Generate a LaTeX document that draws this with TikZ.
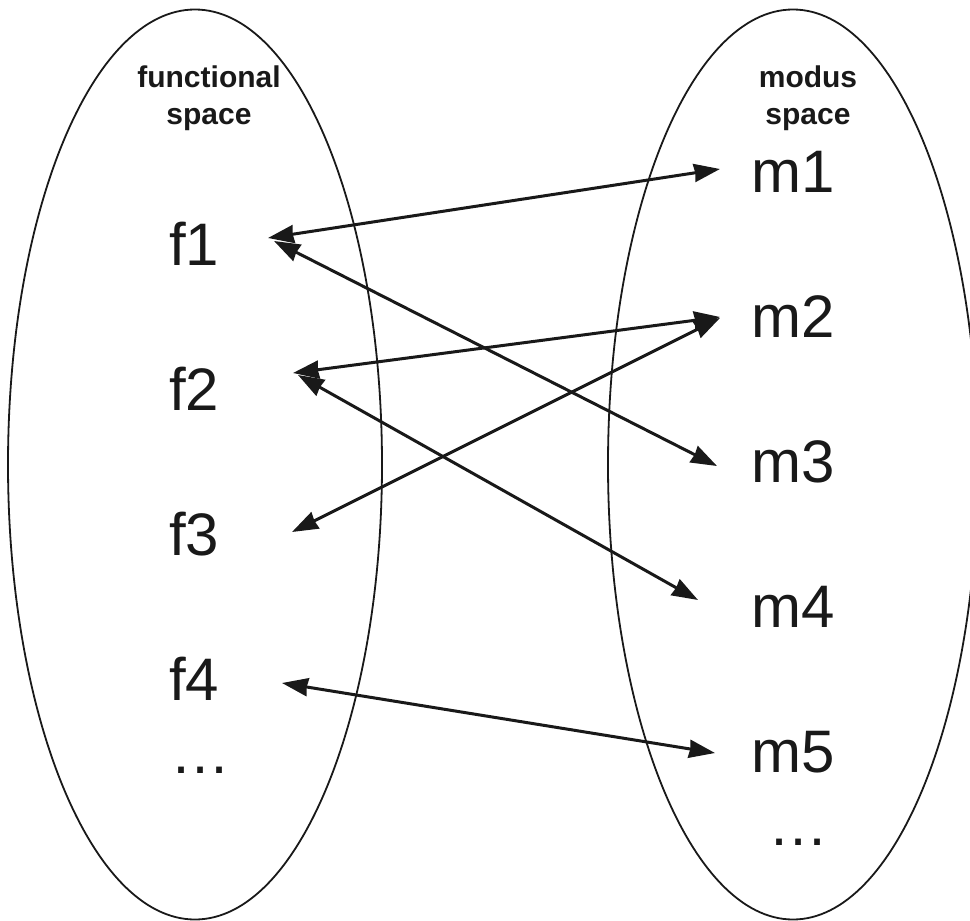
\documentclass[tikz,border=0pt]{standalone}
\usepackage{fontspec}
\setmainfont{Liberation Sans}
\usetikzlibrary{arrows.meta}
\begin{document}
\begin{tikzpicture}[x=1pt,y=-1pt,
  space/.style={draw=black!90,line width=1.8pt},
  item/.style={anchor=base west,inner sep=0pt,font=\fontsize{60}{60}\selectfont,text=black!90},
  title/.style={anchor=north,inner sep=0pt,align=center,font=\fontsize{30}{37}\selectfont\bfseries,text=black!90},
  link/.style={line width=3pt,draw=black!90,{Stealth[inset=1pt,length=26pt,width=18pt]}-{Stealth[inset=1pt,length=26pt,width=18pt]}}]
\useasboundingbox (0,0) rectangle (970,921);
\begin{scope}
\clip (0,0) rectangle (970,921);
\draw[space] (195,464.5) ellipse [x radius=187, y radius=455];
\draw[space] (793,464.5) ellipse [x radius=185, y radius=455];
\end{scope}
\node[title] (ft) at (209,66) {functional\\space};
\node[title] (mt) at (808,66) {modus\\space};
\node[item] (f1) at (169,265) {f1};
\node[item] (f2) at (169,410) {f2};
\node[item] (f3) at (169,555) {f3};
\node[item] (f4) at (169,700) {f4};
\node[item] (fd) at (170,773) {\ldots};
\node[item] (m1) at (751,192) {m1};
\node[item] (m2) at (751,337) {m2};
\node[item] (m3) at (751,482) {m3};
\node[item] (m4) at (751,627) {m4};
\node[item] (m5) at (751,772) {m5};
\node[item] (md) at (768,845) {\ldots};
\coordinate (f1a) at (268,238);
\coordinate (f1b) at (274,241);
\coordinate (f2a) at (293,373);
\coordinate (f2b) at (298,375);
\coordinate (f3a) at (292,532);
\coordinate (f4a) at (282,683);
\coordinate (m1a) at (720,169);
\coordinate (m2a) at (720,317);
\coordinate (m2b) at (720,318);
\coordinate (m3a) at (717,466);
\coordinate (m4a) at (698,600);
\coordinate (m5a) at (715,753);
\draw[link] (f1a) -- (m1a);
\draw[link] (f1b) -- (m3a);
\draw[link] (f2a) -- (m2a);
\draw[link] (f3a) -- (m2b);
\draw[link] (f2b) -- (m4a);
\draw[link] (f4a) -- (m5a);
\end{tikzpicture}
\end{document}
